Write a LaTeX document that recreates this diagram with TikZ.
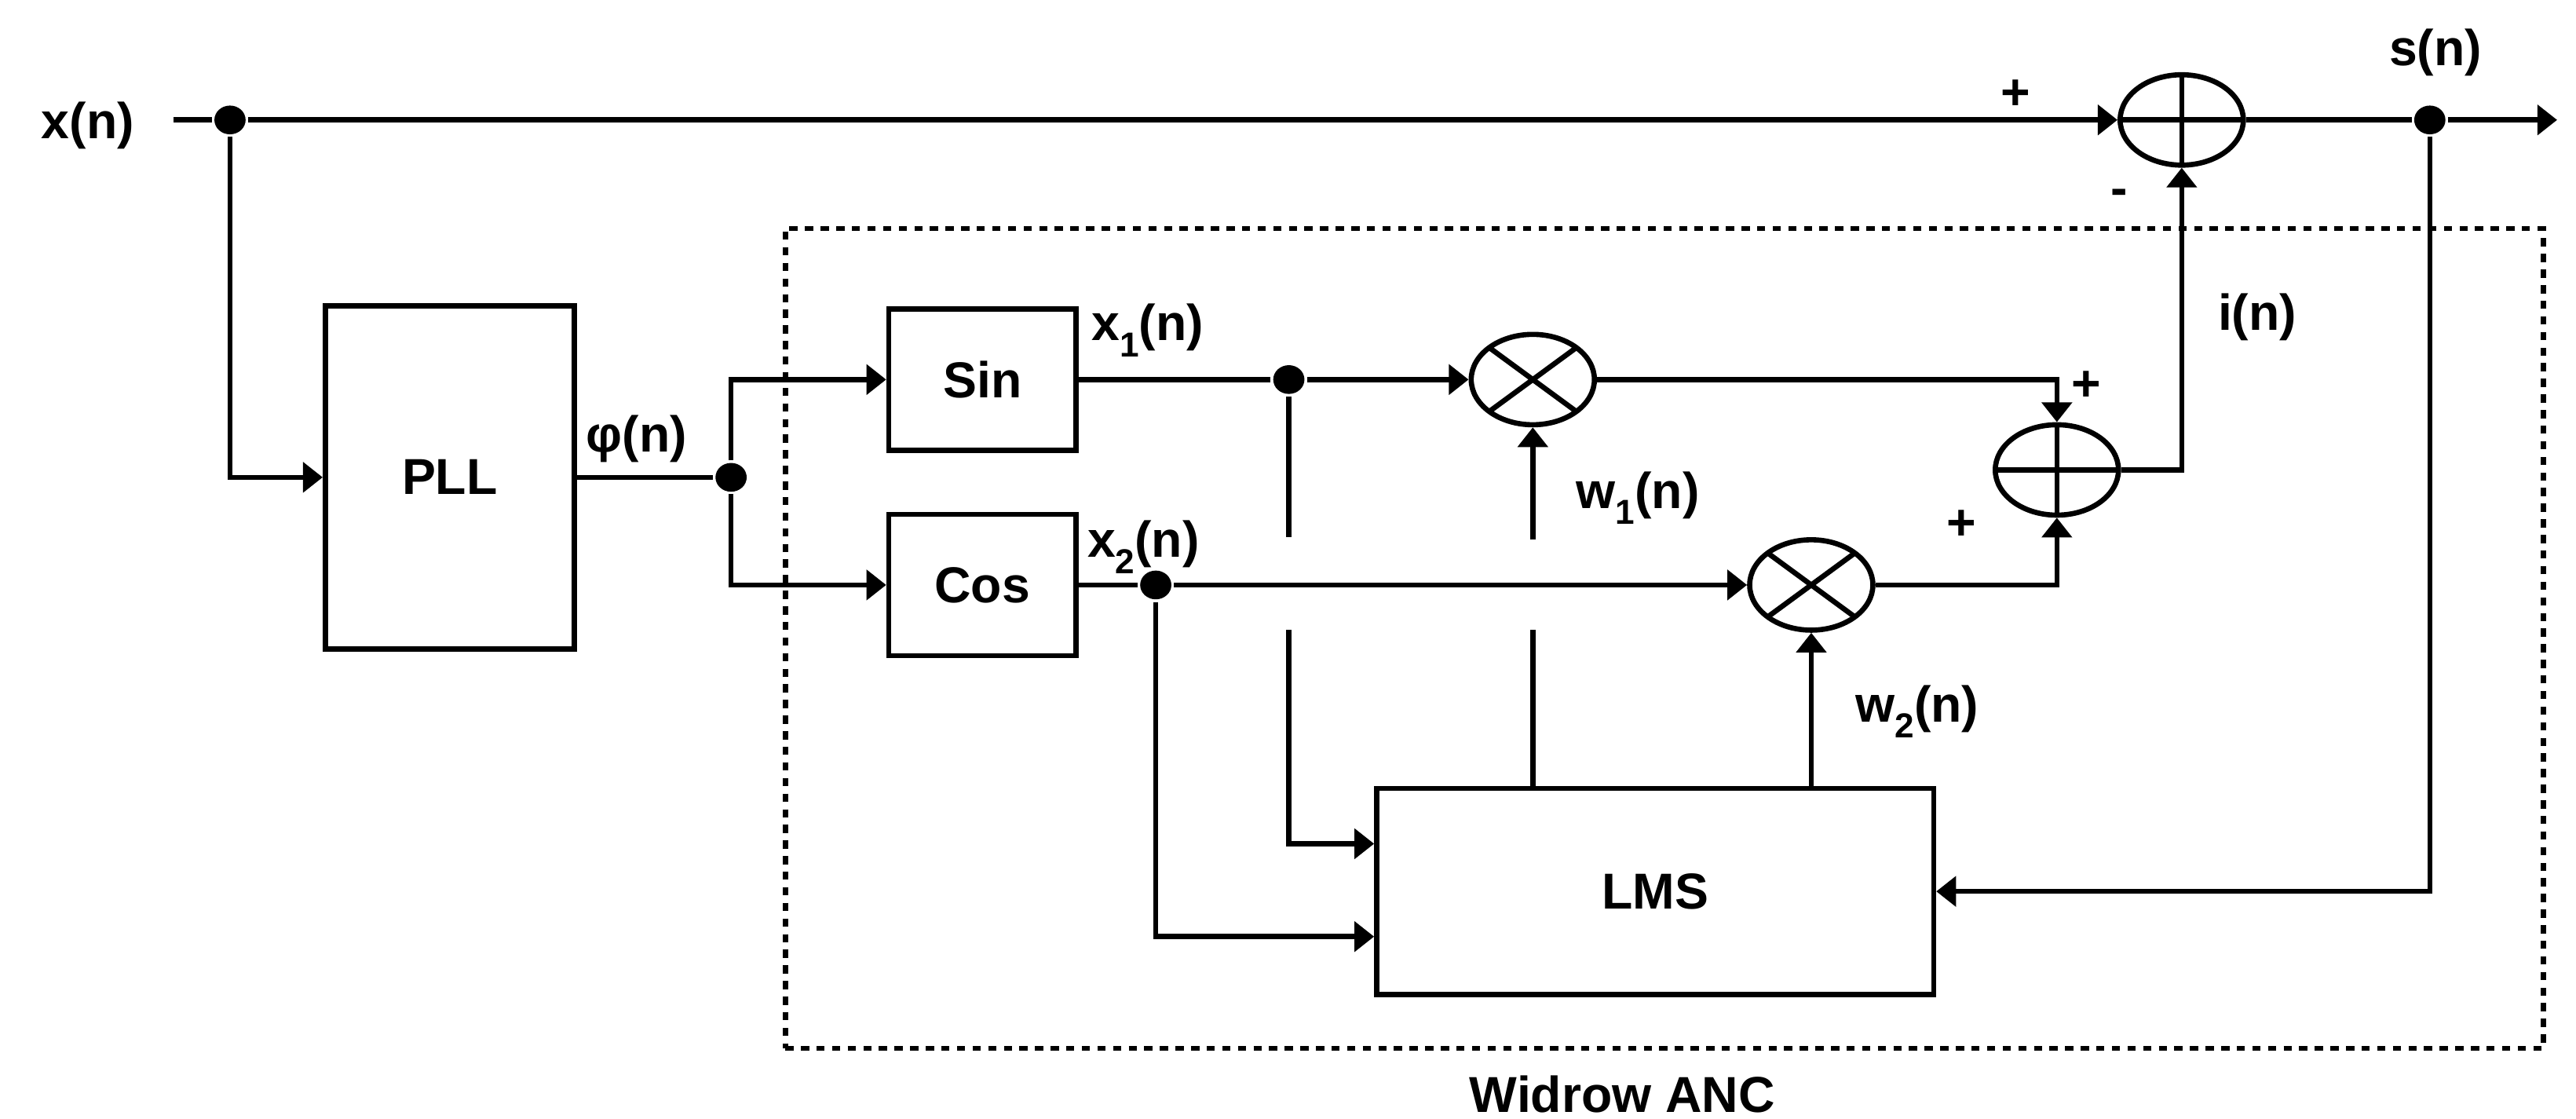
\documentclass[tikz,border=0pt]{standalone}
\usepackage{fontspec}
\setmainfont{Liberation Sans}
\usetikzlibrary{arrows.meta,shapes.geometric}

\begin{document}
\begin{tikzpicture}[
    line width=1.8pt,
    >={Triangle[length=2.4mm,width=3.6mm]},
    font=\fontsize{17.5}{21}\selectfont\bfseries,
    blk/.style={draw, inner sep=0pt},
    junc/.style={ellipse, fill, inner sep=0pt, minimum width=3.8mm, minimum height=3.5mm},
    sumnode/.style={ellipse, draw, inner sep=0pt, minimum width=1.5cm, minimum height=1.1cm,
      path picture={\draw (path picture bounding box.north) -- (path picture bounding box.south)
        (path picture bounding box.west) -- (path picture bounding box.east);}},
    mulnode/.style={ellipse, draw, inner sep=0pt, minimum width=1.5cm, minimum height=1.1cm,
      path picture={\draw (path picture bounding box.north west) -- (path picture bounding box.south east)
        (path picture bounding box.south west) -- (path picture bounding box.north east);}}
  ]
      % \draw[help lines, gray!50, very thin] (0,0) grid (31,13);
      \useasboundingbox (0,0) rectangle (31.36,13.62);

      % Widrow ANC frame
      \node[draw, dash pattern=on 1mm off 0.9mm, minimum width=21.4cm, minimum height=9.98cm] (anc) at (20.26,5.85) {};
      \node (ancl) at (19.75,0.3) {Widrow ANC};

      % input and output line
      \node (xin) at (1.07,12.09) {x(n)};
      \coordinate (xstart) at (2.11,12.16);
      \node[junc] (d1) at (2.8,12.16) {};
      \node[sumnode] (sum1) at (26.56,12.16) {};
      \node[junc] (d4) at (29.58,12.16) {};
      \coordinate (sout) at (31.13,12.16);
      \node (sn) at (29.65,12.98) {s(n)};
      \node (pl1) at (24.54,12.47) {+};
      \node (mi1) at (25.8,11.22) {-};

      \draw (xstart) -- (d1);
      \draw[->] (d1) -- (sum1.west);
      \draw (sum1.east) -- (d4);
      \draw[->] (d4) -- (sout);

      % PLL
      \node[blk, minimum width=3.03cm, minimum height=4.18cm] (pll) at (5.475,7.81) {PLL};
      \node[junc] (d2) at (8.9,7.81) {};
      \node (phi) at (7.75,8.28) {φ(n)};
      \draw[->] (d1) |- (pll.west);
      \draw (pll.east) -- (d2);

      % Sin / Cos
      \node[blk, minimum width=2.28cm, minimum height=1.72cm] (sin) at (11.96,9.0) {Sin};
      \node[blk, minimum width=2.28cm, minimum height=1.72cm] (cos) at (11.96,6.5) {Cos};
      \draw[->] (d2) |- (sin.west);
      \draw[->] (d2) |- (cos.west);
      \node (x1l) at (13.97,9.6) {x\raisebox{-0.6ex}{\fontsize{12}{14}\selectfont 1}(n)};
      \node (x2l) at (13.92,6.96) {x\raisebox{-0.6ex}{\fontsize{12}{14}\selectfont 2}(n)};

      % multipliers and adder
      \node[junc] (d3) at (15.69,9.0) {};
      \node[junc] (d5) at (14.07,6.5) {};
      \node[mulnode] (mul1) at (18.66,9.0) {};
      \node[mulnode] (mul2) at (22.05,6.5) {};
      \node[sumnode] (sum2) at (25.04,7.9) {};
      \draw (sin.east) -- (d3);
      \draw[->] (d3) -- (mul1.west);
      \draw (cos.east) -- (d5);
      \draw[->] (d5) -- (mul2.west);
      \draw[->] (mul1.east) -| (sum2.north);
      \draw[->] (mul2.east) -| (sum2.south);
      \draw[->] (sum2.east) -| (sum1.south);
      \node (pl2) at (25.4,8.92) {+};
      \node (pl3) at (23.88,7.23) {+};
      \node (inl) at (27.48,9.76) {i(n)};

      % LMS
      \node[blk, minimum width=6.78cm, minimum height=2.51cm] (lms) at (20.15,2.77) {LMS};
      \coordinate (hop1t) at (15.69,7.08);
      \coordinate (hop1b) at (15.69,5.95);
      \coordinate (hop2t) at (18.66,7.05);
      \coordinate (hop2b) at (18.66,5.95);
      \draw (d3) -- (hop1t);
      \draw[->] (hop1b) |- ([yshift=5.8mm]lms.west);
      \draw[->] (d5) |- ([yshift=-5.5mm]lms.west);
      \draw[->] (hop2t) -- (mul1.south);
      \draw (lms.north -| hop2b) -- (hop2b);
      \draw[->] (lms.north -| mul2.south) -- (mul2.south);
      \draw[->] (d4) |- (lms.east);
      \node (w1l) at (19.94,7.56) {w\raisebox{-0.6ex}{\fontsize{12}{14}\selectfont 1}(n)};
      \node (w2l) at (23.34,4.96) {w\raisebox{-0.6ex}{\fontsize{12}{14}\selectfont 2}(n)};
\end{tikzpicture}
\end{document}
